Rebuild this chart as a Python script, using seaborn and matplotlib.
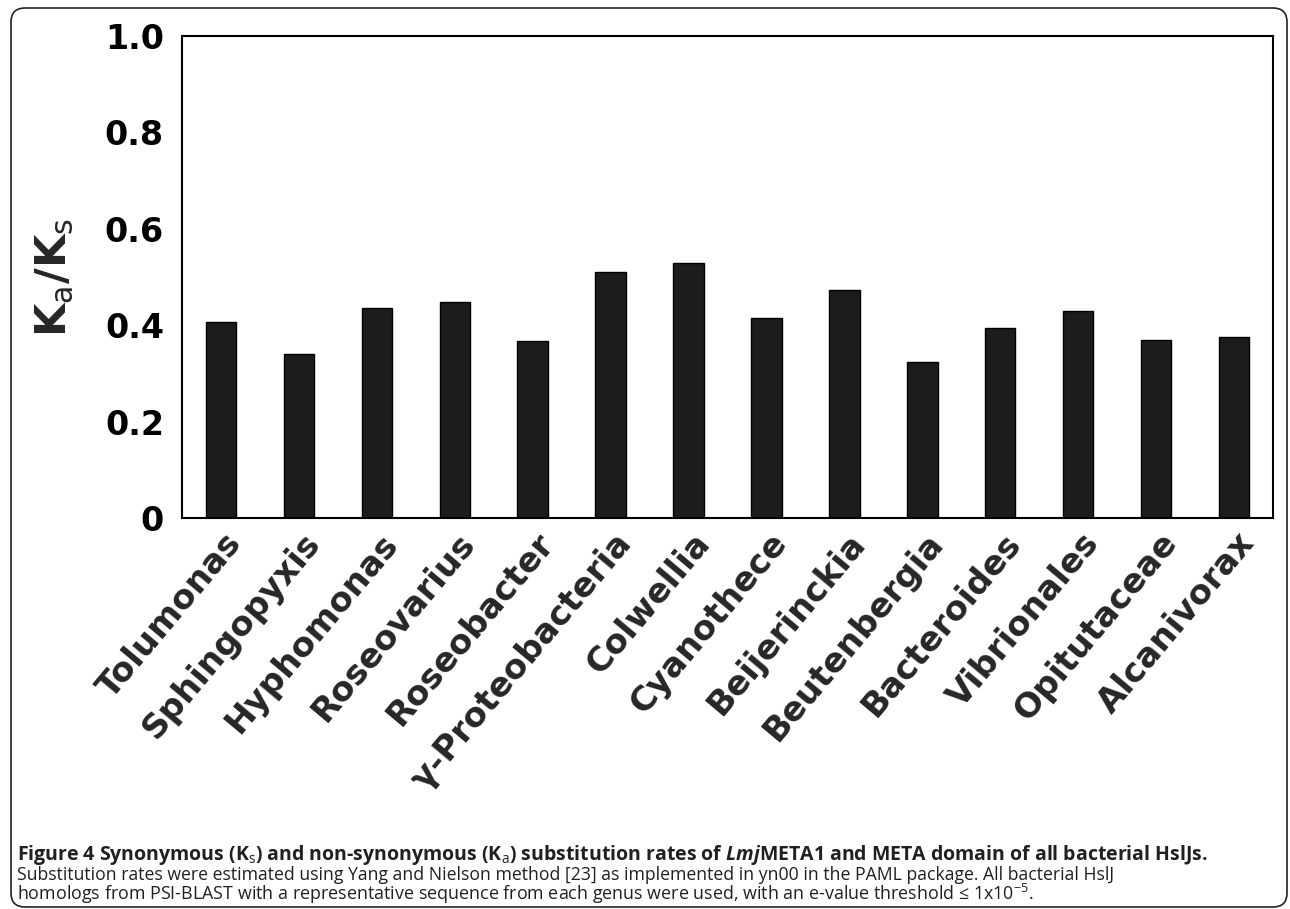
import matplotlib
matplotlib.use('Agg')
import matplotlib.pyplot as plt
from matplotlib.patches import FancyBboxPatch
from matplotlib.transforms import IdentityTransform, ScaledTranslation
import seaborn as sns

# Ka/Ks per genus
genera = ['Tolumonas', 'Sphingopyxis', 'Hyphomonas', 'Roseovarius', 'Roseobacter',
          'γ-Proteobacteria', 'Colwellia', 'Cyanothece', 'Beijerinckia', 'Beutenbergia',
          'Bacteroides', 'Vibrionales', 'Opitutaceae', 'Alcanivorax']
ka_ks = [0.407, 0.340, 0.436, 0.449, 0.367, 0.511, 0.530, 0.414, 0.472, 0.324,
         0.395, 0.430, 0.369, 0.376]
y_ticks = [0, 0.2, 0.4, 0.6, 0.8, 1.0]
y_tick_labels = ['0', '0.2', '0.4', '0.6', '0.8', '1.0']

caption_1 = (r'Figure 4 Synonymous (K$_\mathrm{s}$) and non-synonymous (K$_\mathrm{a}$) '
             r'substitution rates of $\mathbfit{Lmj}$META1 and META domain of all bacterial HslJs.')
caption_2 = ('Substitution rates were estimated using Yang and Nielson method [23] as implemented '
             'in yn00 in the PAML package. All bacterial HslJ')
caption_3 = (r'homologs from PSI-BLAST with a representative sequence from each genus were used, '
             r'with an e-value threshold ≤ 1x10$^{\mathrm{-5}}$.')

sns.set_style('white')
plt.rcParams['font.family'] = ['DejaVu Sans']
plt.rcParams['mathtext.fontset'] = 'custom'
plt.rcParams['mathtext.rm'] = 'Open Sans'
plt.rcParams['mathtext.bf'] = 'Open Sans:bold'
plt.rcParams['mathtext.it'] = 'Open Sans:italic'
plt.rcParams['mathtext.bfit'] = 'Open Sans:bold:italic'
plt.rcParams['mathtext.sf'] = 'DejaVu Sans'

W, H = 1290, 909
fig = plt.figure(figsize=(W / 100, H / 100), dpi=100)
ax = fig.add_axes([182 / W, 1 - 518 / H, (1273 - 182) / W, (518 - 36) / H])

sns.barplot(x=genera, y=ka_ks, color='#1c1c1c', saturation=1, width=0.39,
            edgecolor='black', linewidth=1, ax=ax)

ax.set_ylim(0, 1.0)
ax.set_xlim(-0.5, len(genera) - 0.5)
ax.set_yticks(y_ticks, y_tick_labels)
ax.tick_params(axis='y', direction='out', length=8, width=1.5, pad=5,
               labelsize=24, colors='black')
ax.tick_params(axis='x', length=0, pad=14, labelsize=24.5)
for lab in ax.get_yticklabels():
    lab.set_fontweight('bold')
shift = ScaledTranslation(0.15, 0, fig.dpi_scale_trans)
for lab in ax.get_xticklabels():
    lab.set_fontweight('bold')
    lab.set_rotation(50)
    lab.set_ha('right')
    lab.set_va('center')
    lab.set_rotation_mode('anchor')
    lab.set_transform(lab.get_transform() + shift)

for sp in ax.spines.values():
    sp.set_visible(True)
    sp.set_color('black')
    sp.set_linewidth(1.5)

ax.set_xlabel('')
ax.set_ylabel(r'K$_\mathsf{a}$/K$_\mathsf{s}$', fontsize=31, fontweight='bold')
ax.yaxis.set_label_coords(-0.098, 0.5)

cap_font = ['Open Sans', 'DejaVu Sans']
fig.text(17 / W, 49 / H, caption_1, fontsize=14.0, fontweight='bold',
         family=cap_font, va='baseline', color='#231f20')
fig.text(17 / W, 29 / H, caption_2, fontsize=12.7, family=cap_font,
         va='baseline', color='#231f20')
fig.text(17 / W, 9 / H, caption_3, fontsize=12.9, family=cap_font,
         va='baseline', color='#231f20')

# rounded frame round the whole figure
frame = FancyBboxPatch((11, 2), 1276, 899, boxstyle='round,pad=0,rounding_size=14',
                       transform=IdentityTransform(), fill=False,
                       edgecolor='#222222', linewidth=1.2)
fig.add_artist(frame)

fig.savefig('out.png', dpi=100)
